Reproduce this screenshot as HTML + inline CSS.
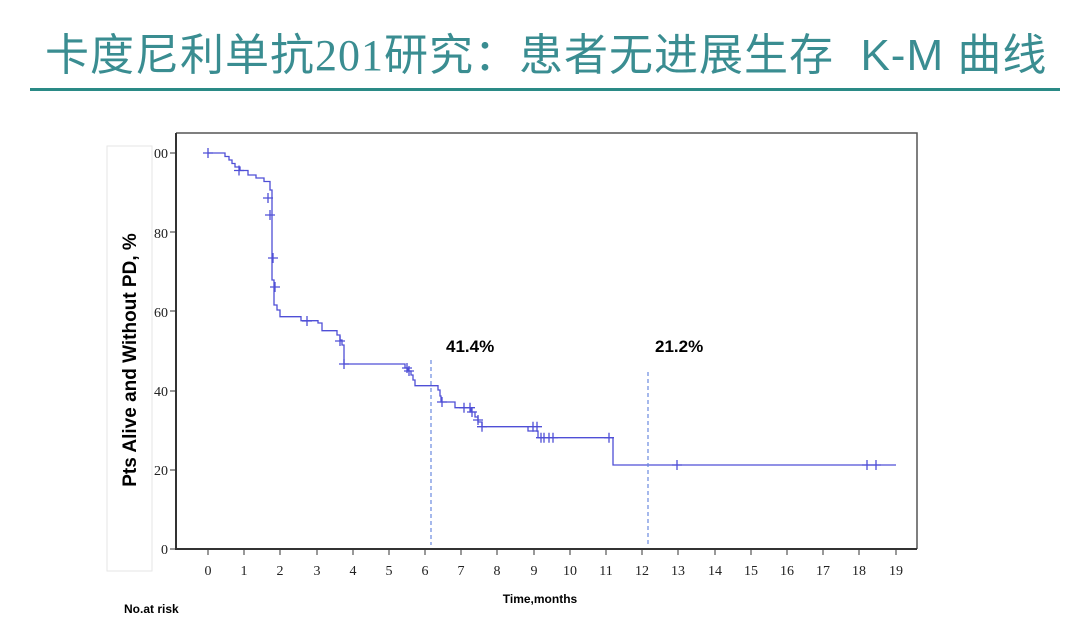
<!DOCTYPE html>
<html><head><meta charset="utf-8"><style>
body{margin:0;width:1080px;height:637px;background:#fff;overflow:hidden;position:relative;font-family:"Liberation Sans","Noto Sans CJK SC",sans-serif}
</style></head><body>
<div style="position:absolute;left:45px;top:28px;white-space:nowrap;font-size:44px;line-height:56px;color:#3a8d91;font-family:'Liberation Sans','Noto Sans CJK SC',sans-serif;letter-spacing:1px">卡度尼利单抗<span style="font-family:'Liberation Serif',serif">201</span>研究：患者无进展生存&nbsp; K-M 曲线</div>
<div style="position:absolute;left:30px;top:88px;width:1030px;height:3px;background:#2a8a86"></div>
<svg width="1080" height="637" style="position:absolute;left:0;top:0" font-family="Liberation Serif,serif">
<rect x="107" y="146" width="45" height="425" fill="none" stroke="#e6e6e6"/>
<text transform="translate(136,360) rotate(-90)" text-anchor="middle" font-family="Liberation Sans,sans-serif" font-weight="bold" font-size="19">Pts Alive and Without PD, %</text>
<path d="M176,133H917V549" fill="none" stroke="#555" stroke-width="1.5"/>
<path d="M176,133V549H917" fill="none" stroke="#333" stroke-width="2"/>
<g font-size="14" text-anchor="end" fill="#222">
<text x="168" y="158">00</text><text x="168" y="238">80</text><text x="168" y="317">60</text><text x="168" y="396">40</text><text x="168" y="475">20</text><text x="168" y="554">0</text>
</g>
<g stroke="#333"><path d="M170,153H176M170,232H176M170,311H176M170,391H176M170,470H176M170,549H176"/></g>
<path fill="none" stroke="#4f4fd6" stroke-width="1.3" d="M208,153H225V156.5H229V160H232V163.5H235V167H240V170.5H248V175H256V178H264V181.5H270V190H272V200V230V257V280H274V300V305H277V310H280V316.7H301V320.7H318V323H322V330.7H337V335H340V340H342V345H344V364H405V368H408V371H411V375H413V380H415V385.7H438V390H440V396H441V402H455V407.7H471V412H475V417H478V422H482V426.7H528V431H538V437.7H613V465H896"/>
<g stroke="#4f4fd6" stroke-width="1.3" fill="none">
<path d="M203,153h10M208,148v10M234,170.5h10M239,165.5v10M263,198h10M268,193v10M265,215h10M270,210v10M268,258h10M273,253v10M270,287h10M275,282v10M302,321h10M307,316v10M335,341h10M340,336v10M339,364h10M344,359v10M402,368h10M407,363v10M404,371h10M409,366v10M437,402h10M442,397v10M459,407.7h10M464,402.7v10M465,407.7h10M470,402.7v10M467,412h10M472,407v10M473,420h10M478,415v10M477,426.7h10M482,421.7v10M528,426.7h10M533,421.7v10M532,426.7h10M537,421.7v10M536,437.7h10M541,432.7v10M539,437.7h10M544,432.7v10M544,437.7h10M549,432.7v10M548,437.7h10M553,432.7v10M604,437.7h10M609,432.7v10M871,465h10M876,460v10M862,465h10M867,460v10M672,465h10M677,460v10"/>
</g>
<path d="M431,360V545M648,372V545" stroke="#6a8ae0" stroke-width="1.2" stroke-dasharray="4,3"/>
<text x="446" y="352" font-family="Liberation Sans,sans-serif" font-weight="bold" font-size="17">41.4%</text>
<text x="655" y="352" font-family="Liberation Sans,sans-serif" font-weight="bold" font-size="17">21.2%</text>
<text x="540" y="603" text-anchor="middle" font-family="Liberation Sans,sans-serif" font-weight="bold" font-size="12">Time,months</text>
<text x="124" y="613" font-family="Liberation Sans,sans-serif" font-weight="bold" font-size="12">No.at risk</text>
<g stroke="#333">
<path d="M208,549v6M244,549v6M280,549v6M317,549v6M353,549v6M389,549v6M425,549v6M461,549v6M497,549v6M534,549v6M570,549v6M606,549v6M642,549v6M678,549v6M715,549v6M751,549v6M787,549v6M823,549v6M859,549v6M896,549v6"/>
</g>
<g font-size="14" text-anchor="middle" fill="#222">
<text x="208" y="575">0</text><text x="244" y="575">1</text><text x="280" y="575">2</text><text x="317" y="575">3</text><text x="353" y="575">4</text><text x="389" y="575">5</text><text x="425" y="575">6</text><text x="461" y="575">7</text><text x="497" y="575">8</text><text x="534" y="575">9</text><text x="570" y="575">10</text><text x="606" y="575">11</text><text x="642" y="575">12</text><text x="678" y="575">13</text><text x="715" y="575">14</text><text x="751" y="575">15</text><text x="787" y="575">16</text><text x="823" y="575">17</text><text x="859" y="575">18</text><text x="896" y="575">19</text>
</g>
</svg>
</body></html>
